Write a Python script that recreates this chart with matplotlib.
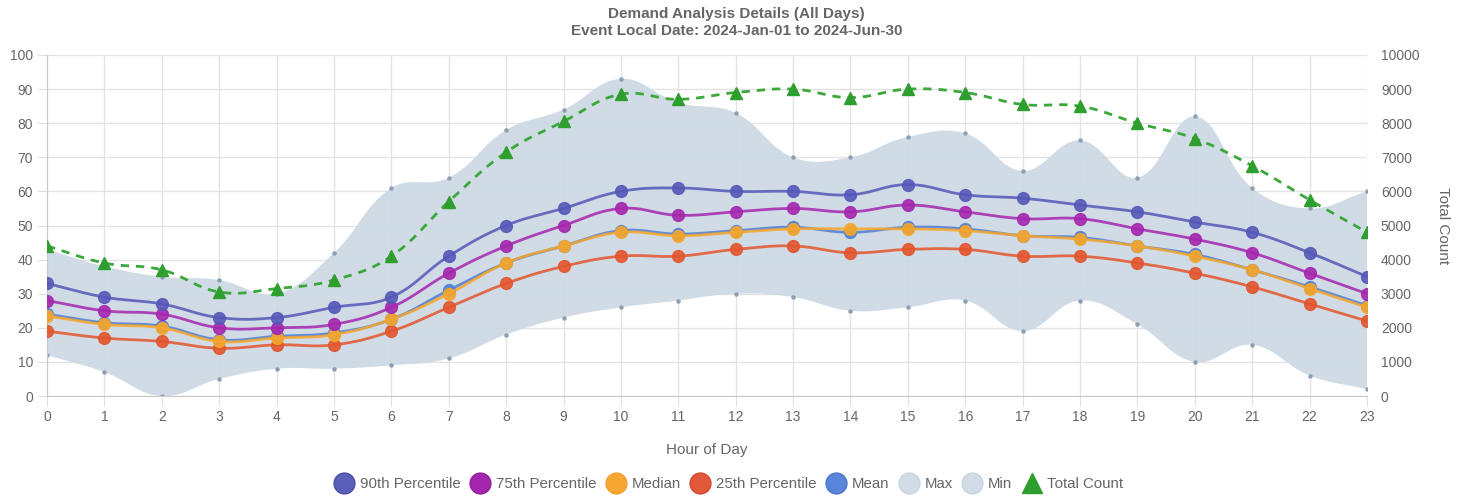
import numpy as np
import matplotlib
matplotlib.use('Agg')
import matplotlib.pyplot as plt
from matplotlib.lines import Line2D

plt.rcParams['font.family'] = ['Liberation Sans', 'DejaVu Sans']

hours = list(range(24))
p90 = [33, 29, 27, 23, 23, 26, 29, 41, 50, 55, 60, 61, 60, 60, 59, 62, 59, 58, 56, 54, 51, 48, 42, 35]
p75 = [28, 25, 24, 20, 20, 21, 26, 36, 44, 50, 55, 53, 54, 55, 54, 56, 54, 52, 52, 49, 46, 42, 36, 30]
median = [23.5, 21, 20, 16, 17, 18, 22.5, 30, 39, 44, 48, 47, 48, 49, 49, 49, 48.5, 47, 46, 44, 41, 37, 31.5, 26]
mean = [24, 21.5, 20.5, 16.5, 17.5, 18.5, 22.5, 31, 39, 44, 48.5, 47.5, 48.5, 49.5, 48, 49.5, 49, 47, 46.5, 44, 41.5, 37, 32, 26.5]
p25 = [19, 17, 16, 14, 15, 15, 19, 26, 33, 38, 41, 41, 43, 44, 42, 43, 43, 41, 41, 39, 36, 32, 27, 22]
vmax = [43, 38, 35, 34, 30, 42, 61, 64, 78, 84, 93, 86, 83, 70, 70, 76, 77, 66, 75, 64, 82, 61, 55, 60]
vmin = [12, 7, 0, 5, 8, 8, 9, 11, 18, 23, 26, 28, 30, 29, 25, 26, 28, 19, 28, 21, 10, 15, 6, 2]
total = [4400, 3900, 3700, 3050, 3150, 3400, 4100, 5700, 7150, 8050, 8850, 8700,
         8900, 9000, 8750, 9000, 8900, 8550, 8500, 8000, 7550, 6750, 5750, 4800]

c90 = '#5558b8'
c75 = '#a526ae'
cmed = '#f6a62a'
c25 = '#e3552d'
cmean = '#4f7fd6'
cfill = '#cbd8e3'
cgreen = '#2e9e2e'
gray = '#666666'


def smooth(x, y, sx=57.4, sy=3.41, tension=0.4, n=20):
    # chart.js style spline (control points from neighbours, pixel distances)
    x = np.asarray(x, float)
    y = np.asarray(y, float)
    px, py = x * sx, y * sy
    m = len(x)
    cp_in, cp_out = [], []
    for i in range(m):
        pi = max(i - 1, 0)
        ni = min(i + 1, m - 1)
        d01 = np.hypot(px[i] - px[pi], py[i] - py[pi])
        d12 = np.hypot(px[ni] - px[i], py[ni] - py[i])
        tot = d01 + d12
        s01 = d01 / tot if tot else 0
        s12 = d12 / tot if tot else 0
        fa, fb = tension * s01, tension * s12
        dx, dy = px[ni] - px[pi], py[ni] - py[pi]
        cp_in.append((px[i] - fa * dx, py[i] - fa * dy))
        cp_out.append((px[i] + fb * dx, py[i] + fb * dy))
    t = np.linspace(0, 1, n)[:, None]
    pts = []
    for i in range(m - 1):
        p0 = np.array([px[i], py[i]])
        p1 = np.array(cp_out[i])
        p2 = np.array(cp_in[i + 1])
        p3 = np.array([px[i + 1], py[i + 1]])
        seg = ((1 - t) ** 3) * p0 + 3 * ((1 - t) ** 2) * t * p1 + 3 * (1 - t) * t ** 2 * p2 + t ** 3 * p3
        pts.append(seg if i == 0 else seg[1:])
    pts = np.vstack(pts)
    return pts[:, 0] / sx, pts[:, 1] / sy


fig = plt.figure(figsize=(14.73, 4.97), dpi=100)
ax = fig.add_axes([47 / 1473, 1 - 396 / 497, (1367 - 47) / 1473, (396 - 55) / 497])

# min / max band
mx_x, mx_y = smooth(hours, vmax)
mn_x, mn_y = smooth(hours, vmin)
ax.fill(np.concatenate([mx_x, mn_x[::-1]]), np.concatenate([mx_y, mn_y[::-1]]),
        color=cfill, alpha=0.9, lw=0, zorder=1)
ax.plot(hours, vmax, 'o', ms=2.2, color='#8d9fb3', zorder=2)
ax.plot(hours, vmin, 'o', ms=2.2, color='#8d9fb3', zorder=2)

series = [(mean, cmean, 3), (p25, c25, 4), (median, cmed, 5), (p75, c75, 6), (p90, c90, 7)]
for vals, col, z in series:
    sx_, sy_ = smooth(hours, vals)
    ax.plot(sx_, sy_, color=col, lw=2.0, alpha=0.85, zorder=z)
    ax.plot(hours, vals, 'o', ms=8.5, color=col, mec=col, alpha=0.9, zorder=z)

ax.set_xlim(0, 23)
ax.set_ylim(0, 100)
ax.set_xticks(hours)
ax.set_yticks(range(0, 101, 10))
ax.grid(True, color='#e3e3e3', lw=1)
ax.set_axisbelow(True)
for s in ['top', 'right']:
    ax.spines[s].set_visible(False)
for s in ['left', 'bottom']:
    ax.spines[s].set_color('#c8c8c8')
ax.tick_params(axis='both', colors='#e0e0e0', labelcolor=gray, labelsize=10, length=7)
ax.tick_params(axis='y', pad=3)
ax.tick_params(axis='x', pad=3)
ax.set_xlabel('Hour of Day', color=gray, fontsize=11, labelpad=14)

ax2 = ax.twinx()
tx, ty = smooth(hours, total, sy=3.41 / 100)
ax2.plot(tx, ty, color='#3aa83a', lw=2.0, ls=(0, (3, 2.5)), zorder=3)
ax2.plot(hours, total, '^', ms=8.5, color=cgreen, zorder=4)
ax2.set_ylim(0, 10000)
ax2.set_yticks(range(0, 10001, 1000))
for s in ax2.spines.values():
    s.set_visible(False)
ax2.tick_params(axis='y', length=0, pad=10, labelcolor=gray, labelsize=10)
ax2.set_ylabel('Total Count', color=gray, fontsize=11, rotation=270, labelpad=22)

fig.text(0.5, 1 - 14 / 497, 'Demand Analysis Details (All Days)', ha='center', va='center',
         color=gray, fontsize=11, fontweight='bold')
fig.text(0.5, 1 - 31 / 497, 'Event Local Date: 2024-Jan-01 to 2024-Jun-30', ha='center', va='center',
         color=gray, fontsize=11, fontweight='bold')

handles = [
    Line2D([], [], ls='', marker='o', ms=15, color='#5b5fb8', mec='#4a4ea8', label='90th Percentile'),
    Line2D([], [], ls='', marker='o', ms=15, color='#a526ae', mec='#95209e', label='75th Percentile'),
    Line2D([], [], ls='', marker='o', ms=15, color='#f7a731', mec='#f0a030', label='Median'),
    Line2D([], [], ls='', marker='o', ms=15, color='#e2583a', mec='#d24a2e', label='25th Percentile'),
    Line2D([], [], ls='', marker='o', ms=15, color='#5a86da', mec='#4a76ca', label='Mean'),
    Line2D([], [], ls='', marker='o', ms=15, color='#d1dce6', mec='#c8d4df', label='Max'),
    Line2D([], [], ls='', marker='o', ms=15, color='#d1dce6', mec='#c8d4df', label='Min'),
    Line2D([], [], ls='', marker='^', ms=15, color='#2e9e2e', label='Total Count'),
]
fig.legend(handles=handles, loc='center', bbox_to_anchor=(0.495, 1 - 484 / 497), ncol=8,
           frameon=False, fontsize=10.8, handletextpad=0.45, columnspacing=0.7,
           handlelength=1.2, labelcolor=gray)

fig.savefig('out.png', dpi=100)
